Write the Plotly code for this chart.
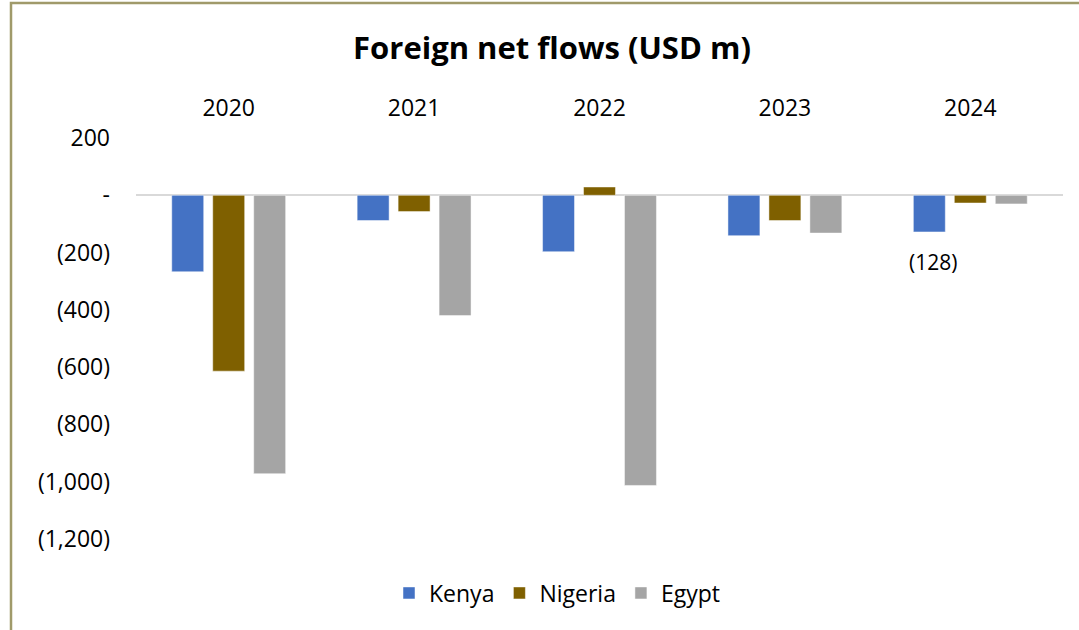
import plotly.graph_objects as go

years = ["2020", "2021", "2022", "2023", "2024"]
kenya = [-267, -88, -197, -141, -128]
nigeria = [-614, -57, 29, -88, -27]
egypt = [-972, -420, -1013, -132, -30]

series_names = ["Kenya", "Nigeria", "Egypt"]
series_colors = ["#4472C4", "#7F6000", "#A5A5A5"]

y_tickvals = [200, 0, -200, -400, -600, -800, -1000, -1200]
y_ticktext = ["200", "-", "(200)", "(400)", "(600)", "(800)", "(1,000)", "(1,200)"]

W, H = 1079, 630
ML, MR, MT, MB = 136, 16, 138, 91
FONT = "Open Sans"

fig = go.Figure()
for name, vals, col in zip(series_names, [kenya, nigeria, egypt], series_colors):
    fig.add_trace(go.Bar(
        x=years, y=vals, name=name,
        marker=dict(color=col, line=dict(color="rgba(255,255,255,0.6)", width=0.8)),
    ))

# data label for Kenya 2024 (category index of last year)
lbl_idx = len(years) - 1
fig.add_annotation(
    x=lbl_idx, y=kenya[lbl_idx], xref="x", yref="y",
    text="(" + str(abs(kenya[lbl_idx])) + ")", showarrow=False,
    yanchor="top", yshift=-14, xshift=-37,
    font=dict(family=FONT, size=21, color="#000000"),
)

pw = W - ML - MR
ph = H - MT - MB
fig.add_shape(
    type="rect", xref="paper", yref="paper",
    x0=(11 - ML) / pw, x1=(W + 20 - ML) / pw,
    y0=1 - (H + 20 - MT) / ph, y1=1 - (3 - MT) / ph,
    line=dict(color="#A09A6A", width=2.5), fillcolor="rgba(0,0,0,0)", layer="below",
)

fig.update_layout(
    width=W, height=H,
    margin=dict(l=ML, r=MR, t=MT, b=MB, autoexpand=False),
    paper_bgcolor="white", plot_bgcolor="white",
    barmode="group", bargap=0.337, bargroupgap=0.22,
    font=dict(family=FONT, color="#000000"),
    title=dict(text="<b>Foreign net flows (USD m)</b>", x=552 / W, xref="container",
               xanchor="center", y=1 - 48 / H, yanchor="middle",
               font=dict(family=FONT, size=31, color="#000000")),
    xaxis=dict(type="category", side="top", showline=False, showgrid=False, ticks="",
               range=[-0.5, len(years) - 0.5],
               tickfont=dict(size=23, color="#000000"), ticklabelstandoff=16),
    yaxis=dict(range=[-1200, 200], tickvals=y_tickvals, ticktext=y_ticktext,
               showgrid=False, zeroline=True, zerolinecolor="#D9D9D9", zerolinewidth=2,
               showline=False, ticks="", tickfont=dict(size=23, color="#000000"),
               ticklabelstandoff=25),
    legend=dict(orientation="h", x=(557 - ML) / pw, xanchor="center", y=-(593 - 539) / ph,
                yanchor="middle", font=dict(size=23, color="#000000"),
                itemwidth=30, traceorder="normal"),
    showlegend=True,
)

fig.write_html("out.html")
